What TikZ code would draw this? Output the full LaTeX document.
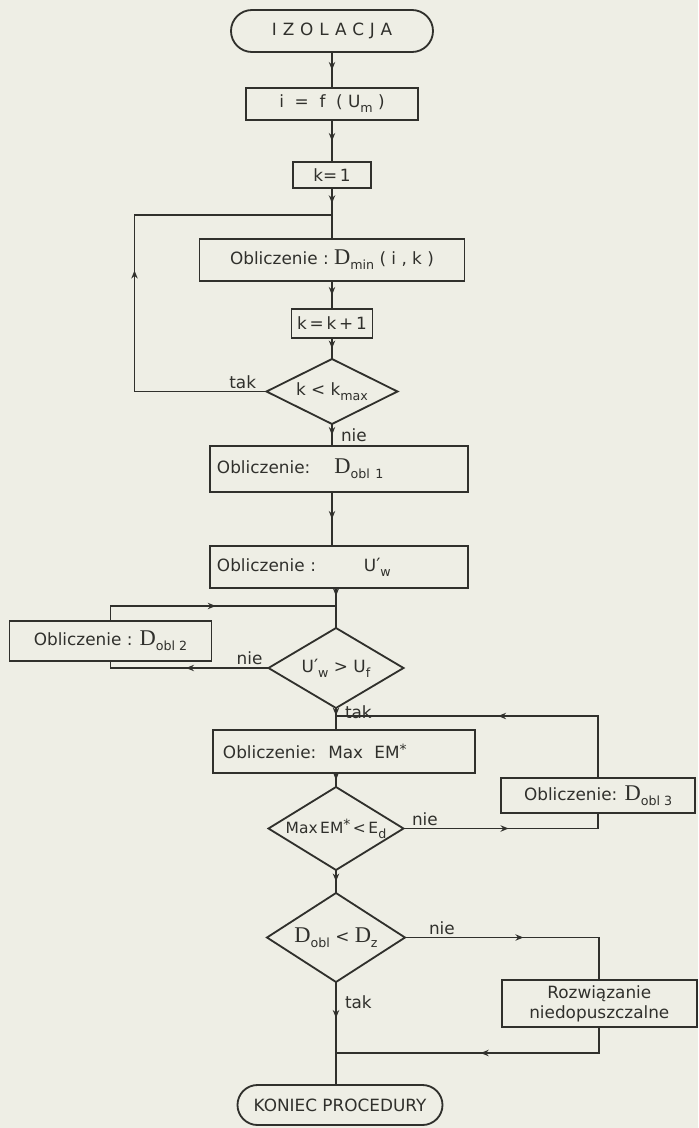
\documentclass[tikz,border=0pt]{standalone}
\usepackage{fontspec}
\setmainfont{DejaVu Sans}
\newfontfamily\dfont{Liberation Serif}
\usetikzlibrary{positioning, arrows.meta, shapes.geometric, decorations.markings}
\definecolor{paper}{RGB}{238,238,229}
\definecolor{ink}{RGB}{48,48,44}
% lettering helpers: lowered index, serif D, primed index, raised star
\newcommand{\subx}[1]{\raisebox{-0.55ex}{\fontsize{9}{9}\selectfont #1}}
\newcommand{\Dsym}{{\dfont\fontsize{16}{16}\selectfont D}}
\newcommand{\prw}[1]{{\fontsize{13}{13}\selectfont ′}\subx{#1}}
\newcommand{\starsup}{\raisebox{0.5ex}{\fontsize{10}{10}\selectfont *}}

\begin{document}
\begin{tikzpicture}[font=\fontsize{12}{14}\selectfont, >={Stealth[length=2mm, width=1.6mm]},
  bx/.style={draw=ink, line width=1.3pt, fill=paper, text=ink, inner sep=0pt,
             outer sep=0pt, align=center},
  lbx/.style={bx, align=left, inner xsep=1.75mm},
  term/.style={bx, rounded corners=5mm},
  dec/.style={diamond, draw=ink, line width=1.3pt, fill=paper, text=ink,
              inner sep=0pt, outer sep=0pt},
  lbl/.style={text=ink, inner sep=1.5pt},
  flow/.style={draw=ink, line width=1.3pt, postaction={decorate},
               decoration={markings, mark=at position #1 with {\arrow{>}}}},
  flow/.default=0.5]
\path[use as bounding box, fill=paper] (-83mm,7.75mm) rectangle (91.5mm,-274.25mm);
% Main column.
\node[term, minimum width=50.5mm, minimum height=10.5mm, rounded corners=5.25mm] (start) at (0,0)
  {\addfontfeature{LetterSpace=35}IZOLACJA};
\node[bx, below=9mm of start, minimum width=43mm, minimum height=8mm] (ifun) {i~~=~~f~~(~U\subx{m}~)};
\node[bx, below=10.5mm of ifun, minimum width=19.5mm, minimum height=6.5mm] (kone) {k=\,1};
\coordinate[below=6.75mm of kone] (jtop);
\node[bx, below=12.75mm of kone, minimum width=66.25mm, minimum height=10.5mm] (dmin)
  {Obliczenie :~\Dsym\subx{min}~( i~,~k~)};
\node[bx, below=7mm of dmin, minimum width=20.25mm, minimum height=7.25mm] (kinc) {k\,=\,k\,+\,1};
\node[dec, below=5.25mm of kinc, minimum width=32.75mm, minimum height=16.25mm] (dk)
  {\makebox[0pt]{k~<~k\subx{max}}};
\node[lbx, below=5.5mm of dk, xshift=1.75mm, text width=61mm, minimum height=11.5mm] (obla)
  {Obliczenie:\hspace{6mm}\Dsym\subx{obl 1}};
\node[lbx, below=13.5mm of obla, text width=61mm, minimum height=10.5mm] (uw)
  {Obliczenie :\hspace{12mm}U\prw{w}};
\node[dec, below=10mm of uw, xshift=-0.75mm, minimum width=33.75mm, minimum height=20mm] (du)
  {\makebox[0pt]{U\prw{w}~>~U\subx{f}}};
\coordinate[above=5.5mm of du] (jmid);
\coordinate[below=2mm of du] (jlow);
\node[lbx, below=5.5mm of du, xshift=2mm, inner xsep=2.5mm, text width=60.5mm, minimum height=10.75mm] (maxem)
  {Obliczenie:\hspace{3mm}Max~~EM\starsup};
\node[dec, below=3.5mm of maxem, xshift=-2mm, minimum width=33.75mm, minimum height=20.75mm] (dem)
  {\makebox[0pt]{\fontsize{11}{12}\selectfont Max\,EM\starsup\,<\,E\subx{d}}};
\node[dec, below=5.75mm of dem, minimum width=34.5mm, minimum height=22.25mm] (dz)
  {\makebox[0pt]{\Dsym\subx{obl}~<~\Dsym\subx{z}}};
\coordinate[below=17.75mm of dz] (jend);
\node[term, below=25.75mm of dz, xshift=1mm, minimum width=51.25mm, minimum height=10mm] (koniec)
  {KONIEC PROCEDURY};
% Side boxes.
\node[bx, left=14.25mm of du, yshift=6.75mm, minimum width=50.5mm, minimum height=10mm] (oblb)
  {Obliczenie : \Dsym\subx{obl 2}};
\node[bx, right=24.4mm of dem, yshift=8.25mm, minimum width=48.5mm, minimum height=8.75mm] (oblc)
  {Obliczenie: \Dsym\subx{obl 3}};
\node[bx, right=24.2mm of dz, yshift=-16.5mm, minimum width=48.75mm, minimum height=11.75mm] (rozw)
  {Rozwiązanie\\niedopuszczalne};
% Flow lines.
\draw[flow] (start) -- (ifun);
\draw[flow] (ifun) -- (kone);
\draw[flow=.3] (kone) -- (dmin);
\draw[flow] (dmin) -- (kinc);
\draw[flow] (kinc) -- (dk);
\draw[flow] (dk.west) -- node[lbl, pos=.18, above] {tak} ++(-33mm,0) |- (jtop);
\draw[flow] (dk.south) -- node[lbl, midway, right=1.5mm] {nie} (dk.south |- obla.north);
\draw[flow] (obla.south -| dk) -- (uw.north -| dk);
\draw[flow=.2] (uw.south -| du) -- (du.north);
\draw[flow] (du.west) -- node[lbl, pos=.12, above] {nie} (du.west -| oblb.south) -- (oblb.south);
\draw[flow] (oblb.north) |- (jmid);
\draw[flow=.35] (du.south) -- node[lbl, pos=.2, right=1.5mm] {tak} (du.south |- maxem.north);
\draw[flow] (maxem.south -| dem) -- (dem.north);
\draw[flow] (dem.east) -- node[lbl, pos=.11, above] {nie} (dem.east -| oblc.south) -- (oblc.south);
\draw[flow] (oblc.north) |- (jlow);
\draw[flow] (dem.south) -- (dz.north);
\draw[flow] (dz.east) -- node[lbl, pos=.19, above] {nie} (dz.east -| rozw.north) -- (rozw.north);
\draw[flow] (rozw.south) |- (jend);
\draw[flow=.35] (dz.south) -- node[lbl, pos=.2, right=1.5mm] {tak} (dz.south |- koniec.north);
\end{tikzpicture}
\end{document}
